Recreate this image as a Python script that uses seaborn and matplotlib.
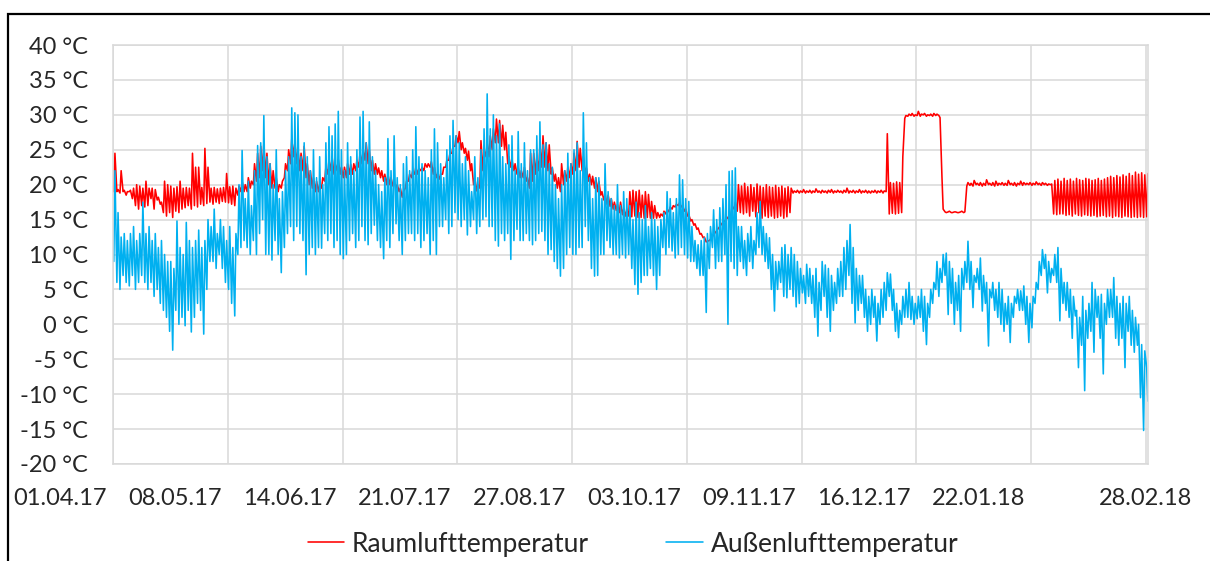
import numpy as np
import pandas as pd
import matplotlib
matplotlib.use("Agg")
import matplotlib.pyplot as plt
import matplotlib.dates as mdates
import matplotlib.transforms as mtransforms
from matplotlib.patches import Rectangle
import seaborn as sns

# Messwerte (abgelesen), zwei Werte pro Tag: 06 Uhr und 15 Uhr
# 01.04.17 bis 28.02.18, eine Zeile pro Monat
start = "2017-04-01"

raum_06h = [
    19, 19, 18.8, 19, 18.5, 19, 18, 17, 16.5, 17, 16.8, 17, 18, 16.5, 17.8, 17.2, 16, 15.5, 16, 15.3, 16.2, 16, 16.5, 16.7, 17, 16.5, 17, 16.8, 17.2, 17,
    17.3, 17.5, 17.2, 17.5, 17.3, 17.6, 17.5, 17.4, 17.2, 17, 18.5, 19, 19, 19, 19.5, 20, 20.5, 21, 22, 21, 20, 19.5, 19.5, 19, 19.5, 21, 22, 23, 24, 23, 22,
    22, 21, 20, 19.5, 19, 19, 19.5, 20.5, 21.5, 22, 21.5, 22, 21.5, 21, 21, 21.5, 21.5, 22, 22.5, 23, 23.5, 23, 22, 21.5, 21.5, 21, 20.5, 20, 20, 19.8,
    19.5, 19, 18.2, 19.5, 20.5, 21, 21.5, 21.5, 22, 22, 22.5, 22.5, 21.5, 21, 20.8, 21.5, 22.5, 23.5, 24.5, 25.5, 26, 25, 24.5, 23.5, 22, 20, 19.1, 19.5, 22, 24, 24,
    25, 26, 26, 25.5, 25, 23, 22.5, 22, 21.5, 21, 21, 20.5, 19.5, 20.5, 21.5, 22, 22.5, 22.5, 22, 21.5, 20.5, 19.5, 19, 20, 20.5, 21, 21.5, 22, 22.5, 22, 21.5,
    20.5, 20, 19.5, 19, 18.5, 17.8, 17.2, 16.9, 16.5, 16.3, 16, 15.7, 15.5, 15.5, 15.4, 15.5, 15.3, 15.3, 15.2, 15.3, 15.2, 15.2, 15.2, 15.3, 15.5, 15.8, 16.1, 16.5, 16.8, 17,
    16.8, 16.2, 15.5, 14.8, 14.2, 13.6, 12.9, 12.4, 11.8, 12, 12.6, 13.2, 13.8, 14.4, 14.8, 15.3, 15.7, 16.5, 16.2, 16, 15.8, 16, 15.5, 16.2, 15.4, 16, 15.2, 15.5, 15.3, 15.5, 15.2,
    15.3, 15.5, 15.2, 15.4, 16, 18.8, 18.9, 18.8, 18.9, 18.8, 18.9, 18.8, 18.9, 18.9, 18.8, 18.9, 18.8, 18.9, 18.8, 18.9, 18.9, 18.8, 18.9, 18.8, 18.9, 18.8, 18.9, 18.8, 18.9, 18.8,
    18.8, 18.9, 18.8, 18.9, 18.8, 19, 15.8, 15.9, 15.8, 15.9, 16, 29.5, 29.8, 29.9, 29.8, 29.9, 29.8, 30, 29.8, 29.9, 29.8, 29.9, 29.9, 21, 16.1, 16.1, 16, 16.1, 16, 16.1, 16,
    19.8, 19.9, 19.8, 20, 19.9, 19.8, 19.9, 20, 19.9, 19.8, 19.9, 20, 19.9, 19.9, 20, 19.9, 19.8, 20, 19.9, 20, 20, 19.9, 20, 20, 19.9, 20, 19.9, 20, 15.8, 15.7, 15.8,
    15.8, 15.6, 15.7, 15.5, 15.8, 15.6, 15.5, 15.7, 15.6, 15.5, 15.6, 15.4, 15.5, 15.6, 15.4, 15.5, 15.3, 15.5, 15.4, 15.3, 15.5, 15.4, 15.3, 15.4, 15.3, 15.4, 15.3, 15.4,
]

raum_15h = [
    24.5, 19.3, 22, 19.2, 19, 19.2, 19.5, 20, 19.8, 19.5, 20.5, 19.5, 19.5, 19.3, 18.2, 17.5, 20.5, 20, 19.8, 19.5, 19.7, 20.5, 19.5, 19.6, 19.5, 24.5, 22.5, 22.5, 19.6, 25.2,
    22.5, 19.5, 19.6, 19.4, 19.5, 19.6, 21.6, 19.7, 19.8, 19.5, 19.8, 20.5, 20, 21, 20.5, 23, 24.5, 25.5, 26, 24.5, 23, 22, 21, 20, 20.5, 23, 25, 26.5, 26, 25, 24.5,
    25.5, 23, 22, 21, 20.5, 20, 21, 22.5, 23.5, 24, 23, 23.6, 22.5, 22.5, 23, 22.9, 23, 23.5, 24.5, 25, 26, 25, 23.5, 23, 22.4, 22, 21.5, 21.5, 21, 20.5,
    20, 19.5, 19, 20.5, 21.5, 22, 22.5, 22.3, 22.5, 23, 23, 23.3, 22.5, 21.5, 21.5, 22.5, 23.5, 24.5, 25.5, 27, 27.6, 26, 25.2, 24.8, 23, 21, 20, 26.3, 25, 26, 27,
    28, 29.4, 29.2, 28.5, 27.5, 24, 23.5, 23, 22.5, 22, 22.5, 21, 24.5, 24.5, 24, 25.7, 27, 26, 25.7, 22.4, 21.5, 21, 23, 22, 22.5, 23, 24.5, 26.2, 25.2, 24, 22.4,
    21.5, 21.2, 21, 20.5, 19, 18.6, 18.5, 18, 17.5, 17.2, 17.5, 16.5, 16.5, 19, 19.2, 19, 19.2, 18.5, 19, 18.6, 17.6, 17, 16, 15.8, 16.2, 16.5, 16.8, 17, 17.2, 17.4,
    17, 16.5, 15.7, 15, 14.4, 13.8, 13, 12.5, 11.9, 12.2, 12.8, 13.4, 14, 14.6, 15, 15.6, 16.9, 17.5, 20, 19.8, 20.2, 19.7, 20, 19.6, 20.1, 19.8, 19.6, 20, 19.7, 19.6, 19.9,
    19.6, 19.8, 19.5, 19.7, 19.5, 19.1, 19.2, 19.1, 19.3, 19.1, 19.2, 19.1, 19.4, 19.1, 19.2, 19.1, 19.2, 19.3, 19.1, 19.2, 19.1, 19.2, 19.5, 19.1, 19.2, 19.1, 19.3, 19.1, 19.2, 19.1,
    19.1, 19.2, 19.1, 19.2, 19.1, 27.3, 20.3, 20.2, 20.4, 20.3, 24, 29.9, 30.1, 30.2, 30, 30.5, 30.1, 30.2, 30, 30.1, 30.2, 30.1, 29.6, 16.5, 16, 16.2, 16, 16.1, 16, 16.2, 16.1,
    20.3, 20.2, 20.6, 20.2, 20.3, 20.2, 20.7, 20.2, 20.3, 20.5, 20.2, 20.3, 20.2, 20.6, 20.2, 20.3, 20.2, 20.5, 20.3, 20.2, 20.3, 20.2, 20.4, 20.2, 20.3, 20.2, 20.1, 20.1, 20.6, 20.8, 20.5,
    20.9, 20.6, 20.8, 20.5, 20.9, 20.7, 20.6, 20.9, 20.8, 20.6, 20.7, 20.9, 20.6, 20.8, 21, 21.2, 21.0, 21.3, 21.1, 21.4, 21.2, 21.6, 21.3, 21.8, 21.5, 21.7, 21.4, 21.6,
]

aussen_06h = [
    9, 6, 5, 7, 6, 5.5, 7, 5, 6, 7, 6, 5, 6, 4, 5, 3, 2, 1, -1, -3.7, 2, 0, 1, -0.2, 2, -1.1, 1, 3, 2, -1.4,
    5, 9, 9, 8, 10, 8, 6, 5, 3, 1.2, 10, 11, 12, 11, 10, 12, 10, 13, 15, 10, 10, 9.2, 12, 10, 7.4, 11, 13, 14, 12, 14, 13,
    12, 7.1, 10, 11, 10, 11, 10.9, 13, 12, 13, 11, 12, 10, 9.4, 10, 12, 13, 11, 12, 14, 12, 11.4, 13, 14.2, 12, 11, 9.4, 12, 11, 13,
    14.4, 12, 10, 12, 13, 13, 12, 13, 11, 12, 13, 10, 12, 10, 14, 14, 15, 13, 14, 16, 15, 14, 15, 12.8, 14, 15, 13, 14, 15, 15.4, 14,
    14, 12, 11.2, 13, 12, 13, 9.3, 12, 13.6, 12, 12, 13, 12, 11.4, 12, 13, 13.3, 12, 10, 10.7, 9, 8, 6.9, 8, 10, 11, 10, 10, 11, 11, 14,
    12, 8, 6.9, 7, 10, 10, 12, 11, 10, 10, 9.5, 10, 9.5, 10, 8, 5.7, 4.3, 6, 7, 7, 8, 7, 5, 7, 11, 10, 11, 10.5, 9.5, 10,
    11, 10, 9.5, 9, 9, 8, 7, 7, 1.7, 8, 11, 8, 9, 9, 10, 0, 9, 8, 7, 9, 8, 7, 9, 8, 10, 11, 10, 9, 8, 5, 1.9,
    5, 6, 4, 3.8, 5, 4, 2.5, 3, 4.5, 3, 4, 3, 1, -1.7, 2, 4, 1, -1, 2, 3, 4, 4, 5, 7, 3, 0.2, 2, 3, 1, -1,
    0, 1, -2.4, 0, 1, 2, 4, 2, -1, -1.9, 0, 1, 1, 0.7, 0, 0.8, 1, -1, -2.9, 1, 3, 5, 4, 6, 7, 1.4, 3, 0, 2, -1, 5,
    6, 5, 2.4, 6, 5, 1.9, 3, -3.1, 3.8, 2, 1, 0, -1, 0, -2.6, 1, 3, 2, 2, 0, -2.6, -0.5, 3, 5, 7, 8, 4.5, 6, 7, 6, 0.5,
    3, 2, 1, -2, 1.2, -6.2, -3, -9.5, -2, -1, -4, 1, -2, -7.1, 0, 1, 1, -2, -3, -2, -6.2, -1, -3, -4, -3, -10.5, -15.2, -6.2,
]

aussen_15h = [
    22, 16, 12.5, 13, 12, 13, 14, 12, 13, 17.5, 13, 14, 12, 13, 11, 12, 10, 9, 9, 8, 14.8, 11, 10, 14.6, 12, 11, 12, 13.5, 11, 12,
    15, 14, 16.5, 13, 15, 14, 12, 14, 11, 13, 20, 24.9, 18, 20.5, 17, 22, 25.6, 26, 29.9, 24, 23, 20, 25, 18, 19, 22, 24, 31, 30.3, 30, 24,
    26, 24, 22, 25, 21, 24, 20, 26, 28.3, 27, 28.7, 30.5, 25, 22, 26, 24, 22, 25, 29.7, 30.5, 26, 29, 24, 22, 20, 19, 21, 26.6, 22, 27,
    21, 20, 23, 24, 22, 25, 28.3, 24, 23, 22, 21, 25, 28, 26, 23, 21, 25, 27, 29.2, 27, 26, 23, 24, 22, 19, 24, 21, 25, 28, 33, 28,
    30, 27, 28.7, 24, 23, 25.7, 27, 22, 27.6, 23, 26, 22, 25, 25, 27, 29, 25.7, 26, 23, 22.5, 20, 18, 20, 22, 24.5, 23, 25, 26, 22, 30.3, 26,
    21, 18, 21, 21, 18, 23, 19, 18, 17, 20, 17, 19, 18, 17, 15, 17.5, 16, 15, 17, 14, 16, 15, 14, 15, 16, 19, 18, 16, 18, 21.4,
    20.7, 18, 17.6, 14, 12, 11.4, 12, 12.4, 13, 14, 16.4, 15, 16.7, 18, 20, 21.9, 22, 22.4, 14, 14, 12, 13, 14, 12, 16, 17.6, 14, 13, 12.4, 10, 9,
    9, 11, 11.4, 10, 11, 10, 9, 8, 7, 8.6, 8, 7, 8, 6, 9, 8.5, 8, 7, 6, 8, 9, 11, 12, 14.3, 11, 8, 7, 7, 5, 4,
    5, 4, 3, 5, 6, 7.4, 7.2, 5, 3, 2, 4, 5, 6, 4, 3, 4, 5, 4, 3, 5, 6, 9, 8, 10, 10.2, 9, 8, 6, 7, 8, 9,
    11.9, 9, 7, 8, 9.5, 7, 6, 5, 6, 5, 6, 5, 3, 4, 3, 4, 5, 4.8, 5.5, 4, 3, 4, 6, 9, 10.7, 10, 9, 8, 10, 11, 8,
    6, 6, 5, 4, 2, 1, 4, 2, 3, 6, 5, 4, 4.3, 3, 5, 5, 6.7, 4, 3, 4, 3, 4, 2, 1, 0, -2.9, -3.8, -11,
]

tick_daten = ["2017-04-01", "2017-05-08", "2017-06-14", "2017-07-21", "2017-08-27",
              "2017-10-03", "2017-11-09", "2017-12-16", "2018-01-22", "2018-02-28"]
tick_texte = ["01.04.17", "08.05.17", "14.06.17", "21.07.17", "27.08.17",
              "03.10.17", "09.11.17", "16.12.17", "22.01.18", "28.02.18"]
y_ticks = list(range(-20, 45, 5))

# Langformat für seaborn
tage = pd.date_range(start, periods=len(raum_06h), freq="D")
zeit = np.empty(2 * len(tage), dtype="datetime64[ns]")
zeit[0::2] = (tage + pd.Timedelta(hours=6)).values
zeit[1::2] = (tage + pd.Timedelta(hours=15)).values


def verschraenken(a, b):
    out = np.empty(2 * len(a))
    out[0::2] = a
    out[1::2] = b
    return out


df = pd.concat([
    pd.DataFrame({"Zeit": zeit, "Temperatur": verschraenken(raum_06h, raum_15h),
                  "Reihe": "Raumlufttemperatur"}),
    pd.DataFrame({"Zeit": zeit, "Temperatur": verschraenken(aussen_06h, aussen_15h),
                  "Reihe": "Außenlufttemperatur"}),
])

sns.set_style("white")
plt.rcParams["font.family"] = ["Lato", "DejaVu Sans"]
schrift = 17

fig = plt.figure(figsize=(12.1, 5.61), dpi=100)
ax = fig.add_axes([113 / 1210, 1 - 464 / 561, (1148 - 113) / 1210, (464 - 45) / 561])

sns.lineplot(data=df, x="Zeit", y="Temperatur", hue="Reihe",
             hue_order=["Raumlufttemperatur", "Außenlufttemperatur"],
             palette=["#FF0000", "#00B0F0"], estimator=None, linewidth=1.15, ax=ax)

ax.set_xlim(pd.Timestamp("2017-04-01"), pd.Timestamp("2018-02-28 16:00"))
ax.set_ylim(-20, 40)
ax.set_yticks(y_ticks)
ax.set_yticklabels([f"{v} °C" for v in y_ticks], fontsize=schrift)
ax.set_xticks([pd.Timestamp(d) for d in tick_daten])
ax.set_xticklabels([])
ax.tick_params(axis="both", length=0)
ax.tick_params(axis="y", pad=18)
ax.grid(True, color="#D9D9D9", linewidth=1.1)
ax.set_axisbelow(True)
for s in ax.spines.values():
    s.set_color("#D9D9D9")
    s.set_linewidth(1.1)
ax.set_xlabel("")
ax.set_ylabel("")

# Datumsbeschriftung wie im Original versetzt
trans = mtransforms.blended_transform_factory(ax.transData, ax.transAxes)
links = mtransforms.ScaledTranslation(-6 / 100, 0, fig.dpi_scale_trans)
for i, (d, t) in enumerate(zip(tick_daten, tick_texte)):
    xn = mdates.date2num(pd.Timestamp(d))
    if i < len(tick_daten) - 1:
        ax.text(xn, -0.083, t, transform=trans + links, ha="right", va="center", fontsize=schrift)
    else:
        ax.text(xn, -0.083, t, transform=trans, ha="center", va="center", fontsize=schrift)

sns.move_legend(ax, "center", bbox_to_anchor=(0.523, 0.03), bbox_transform=fig.transFigure,
                ncol=2, frameon=False, title=None, fontsize=19,
                handlelength=1.4, handletextpad=0.27, columnspacing=2.95)

# Rahmen um das Diagramm
fig.patches.append(Rectangle((8 / 1210, -0.05), 1.1, 1 - 14 / 561 + 0.05,
                             transform=fig.transFigure, fill=False,
                             edgecolor="black", linewidth=1.6))

fig.savefig("out.png", dpi=100)
